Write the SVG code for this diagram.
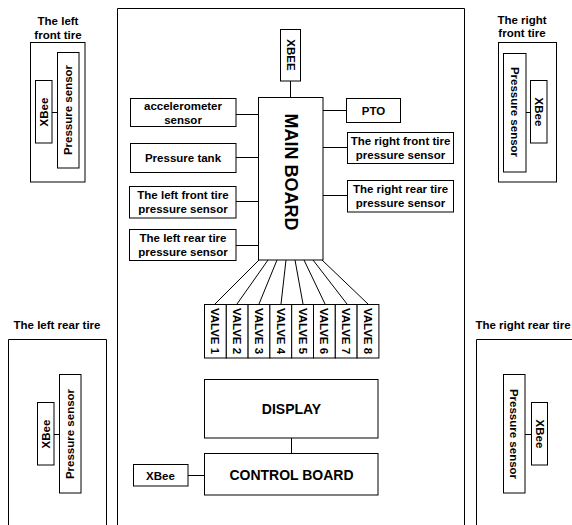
<svg xmlns="http://www.w3.org/2000/svg" width="572" height="525" viewBox="0 0 572 525">
  <style>
    .box { fill: #fff; stroke: #000; stroke-width: 1; }
    .frame { fill: none; stroke: #000; stroke-width: 1; }
    .wire { fill: none; stroke: #000; stroke-width: 1; }
    text { font-family: "Liberation Sans", Arial, sans-serif; font-weight: bold; fill: #000; text-anchor: middle; dominant-baseline: central; }
    .s { font-size: 11.5px; }
    .m { font-size: 14px; }
    .l { font-size: 18px; }
  </style>
  <rect width="572" height="525" fill="#fff"/>

  <!-- vehicle frame -->
  <g id="vehicle">
    <path class="frame" d="M117.5 530 V8.5 H464.5 V530"/>
  </g>

  <!-- connectors -->
  <g id="connectors">
    <line class="wire" x1="290.5" y1="81" x2="290.5" y2="97"/>
    <line class="wire" x1="236" y1="114.5" x2="258" y2="114.5"/>
    <line class="wire" x1="236" y1="157.5" x2="258" y2="157.5"/>
    <line class="wire" x1="236" y1="201.5" x2="258" y2="201.5"/>
    <line class="wire" x1="236" y1="245.5" x2="258" y2="245.5"/>
    <line class="wire" x1="323" y1="110.5" x2="346" y2="110.5"/>
    <line class="wire" x1="323" y1="147.5" x2="347" y2="147.5"/>
    <line class="wire" x1="323" y1="195.5" x2="347" y2="195.5"/>
    <!-- main board to valves -->
    <line class="wire" x1="259" y1="260" x2="215" y2="304"/>
    <line class="wire" x1="268" y1="260" x2="237" y2="304"/>
    <line class="wire" x1="277" y1="260" x2="259" y2="304"/>
    <line class="wire" x1="286" y1="260" x2="281" y2="304"/>
    <line class="wire" x1="295" y1="260" x2="303" y2="304"/>
    <line class="wire" x1="304" y1="260" x2="325" y2="304"/>
    <line class="wire" x1="313" y1="260" x2="347" y2="304"/>
    <line class="wire" x1="322" y1="260" x2="368" y2="304"/>
    <line class="wire" x1="291.5" y1="438" x2="291.5" y2="453"/>
    <line class="wire" x1="188" y1="475.5" x2="204" y2="475.5"/>
    <!-- tire sensors to XBee -->
    <line class="wire" x1="52" y1="112.5" x2="57" y2="112.5"/>
    <line class="wire" x1="526" y1="112.5" x2="530" y2="112.5"/>
    <line class="wire" x1="54" y1="434.5" x2="59" y2="434.5"/>
    <line class="wire" x1="525" y1="434.5" x2="531" y2="434.5"/>
  </g>

  <g id="xbee-main">
    <rect class="box" x="280.5" y="29.5" width="20" height="51.5"/>
    <text class="s" transform="translate(290.5 55) rotate(90)">XBEE</text>
  </g>
  <g id="main-board">
    <rect class="box" x="258.5" y="97.5" width="64.5" height="162.5"/>
    <text class="l" transform="translate(290.5 172) rotate(90)">MAIN BOARD</text>
  </g>
  <g id="accelerometer">
    <rect class="box" x="130.5" y="98.5" width="105.5" height="28"/>
    <text class="s" x="183" y="106">accelerometer</text>
    <text class="s" x="183" y="120">sensor</text>
  </g>
  <g id="pressure-tank">
    <rect class="box" x="130.5" y="143.5" width="105.5" height="29"/>
    <text class="s" x="183" y="158">Pressure tank</text>
  </g>
  <g id="left-front-sensor">
    <rect class="box" x="129.5" y="186.5" width="106.5" height="31.5"/>
    <text class="s" x="183" y="195">The left front tire</text>
    <text class="s" x="183" y="209">pressure sensor</text>
  </g>
  <g id="left-rear-sensor">
    <rect class="box" x="129.5" y="229.5" width="106.5" height="31"/>
    <text class="s" x="183" y="238">The left rear tire</text>
    <text class="s" x="183" y="252">pressure sensor</text>
  </g>
  <g id="pto">
    <rect class="box" x="346.5" y="98.5" width="54" height="24"/>
    <text class="s" x="373.5" y="110.5">PTO</text>
  </g>
  <g id="right-front-sensor">
    <rect class="box" x="347.5" y="132.5" width="106" height="31"/>
    <text class="s" x="400.5" y="141">The right front tire</text>
    <text class="s" x="400.5" y="155">pressure sensor</text>
  </g>
  <g id="right-rear-sensor">
    <rect class="box" x="347.5" y="180.5" width="106" height="31.5"/>
    <text class="s" x="400.5" y="189">The right rear tire</text>
    <text class="s" x="400.5" y="203">pressure sensor</text>
  </g>

  <g id="valves">
    <rect class="box" x="204.5" y="304.5" width="21.8" height="53.5"/>
    <rect class="box" x="226.3" y="304.5" width="21.8" height="53.5"/>
    <rect class="box" x="248.1" y="304.5" width="21.8" height="53.5"/>
    <rect class="box" x="269.9" y="304.5" width="21.8" height="53.5"/>
    <rect class="box" x="291.7" y="304.5" width="21.8" height="53.5"/>
    <rect class="box" x="313.5" y="304.5" width="21.8" height="53.5"/>
    <rect class="box" x="335.3" y="304.5" width="21.8" height="53.5"/>
    <rect class="box" x="357.1" y="304.5" width="21.8" height="53.5"/>
    <text class="s" transform="translate(215.4 331) rotate(90)">VALVE 1</text>
    <text class="s" transform="translate(237.2 331) rotate(90)">VALVE 2</text>
    <text class="s" transform="translate(259 331) rotate(90)">VALVE 3</text>
    <text class="s" transform="translate(280.8 331) rotate(90)">VALVE 4</text>
    <text class="s" transform="translate(302.6 331) rotate(90)">VALVE 5</text>
    <text class="s" transform="translate(324.4 331) rotate(90)">VALVE 6</text>
    <text class="s" transform="translate(346.2 331) rotate(90)">VALVE 7</text>
    <text class="s" transform="translate(368 331) rotate(90)">VALVE 8</text>
  </g>

  <g id="display">
    <rect class="box" x="204.5" y="379.5" width="173.5" height="58.5"/>
    <text class="m" x="291.5" y="408.5">DISPLAY</text>
  </g>
  <g id="control-board">
    <rect class="box" x="204.5" y="453.5" width="173.5" height="41.5"/>
    <text class="m" x="291.5" y="474.5">CONTROL BOARD</text>
  </g>
  <g id="xbee-control">
    <rect class="box" x="133.5" y="464.5" width="54.5" height="21.5"/>
    <text class="s" x="160.5" y="475.5">XBee</text>
  </g>

  <!-- left front tire -->
  <g id="left-front-tire">
    <text class="s" x="58" y="21">The left</text>
    <text class="s" x="58" y="35">front tire</text>
    <rect class="frame" x="30.5" y="42.5" width="54.5" height="139.5"/>
    <rect class="box" x="35.5" y="80.5" width="16.5" height="62.5"/>
    <text class="s" transform="translate(44 112) rotate(-90)">XBee</text>
    <rect class="box" x="57.5" y="52.5" width="21.5" height="115.5"/>
    <text class="s" transform="translate(68.2 110) rotate(-90)">Pressure sensor</text>
  </g>

  <!-- right front tire -->
  <g id="right-front-tire">
    <text class="s" x="522" y="20">The right</text>
    <text class="s" x="522" y="33">front tire</text>
    <rect class="frame" x="498.5" y="42.5" width="58" height="139.5"/>
    <rect class="box" x="503.5" y="53.5" width="22.5" height="118.5"/>
    <text class="s" transform="translate(514.7 112) rotate(90)">Pressure sensor</text>
    <rect class="box" x="530.5" y="80.5" width="16.5" height="62.5"/>
    <text class="s" transform="translate(538.7 112) rotate(90)">XBee</text>
  </g>

  <!-- left rear tire -->
  <g id="left-rear-tire">
    <text class="s" x="57" y="325">The left rear tire</text>
    <path class="frame" d="M8.5 530 V339.5 H106.5 V530"/>
    <rect class="box" x="37.5" y="402.5" width="16.5" height="62.5"/>
    <text class="s" transform="translate(46 434) rotate(-90)">XBee</text>
    <rect class="box" x="59.5" y="374.5" width="21.5" height="118.5"/>
    <text class="s" transform="translate(70.2 434) rotate(-90)">Pressure sensor</text>
  </g>

  <!-- right rear tire -->
  <g id="right-rear-tire">
    <text class="s" x="523" y="325">The right rear tire</text>
    <path class="frame" d="M476.5 530 V339.5 H580"/>
    <rect class="box" x="503.5" y="374.5" width="21.5" height="118.5"/>
    <text class="s" transform="translate(514.2 434) rotate(90)">Pressure sensor</text>
    <rect class="box" x="531.5" y="402.5" width="16" height="62.5"/>
    <text class="s" transform="translate(539.5 434) rotate(90)">XBee</text>
  </g>
</svg>
